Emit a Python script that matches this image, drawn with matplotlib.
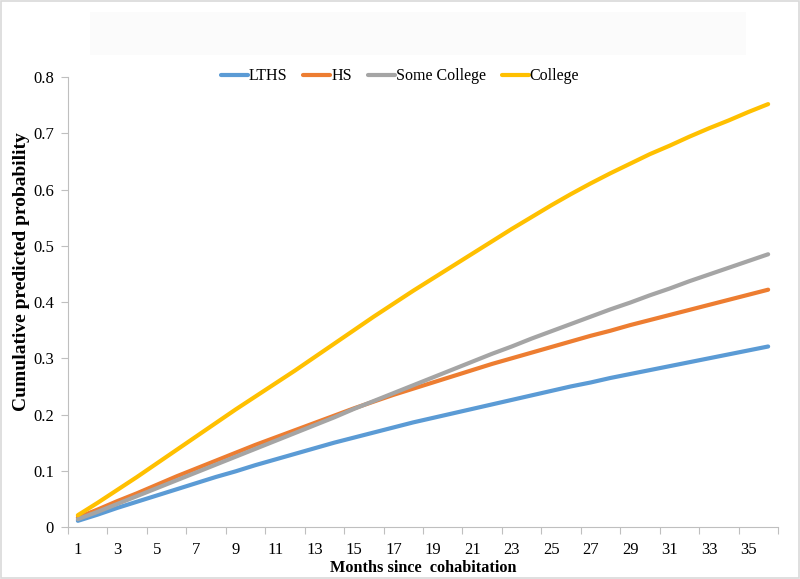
import matplotlib.pyplot as plt
from matplotlib.patches import Rectangle

months = list(range(1, 37))
tick_labels = [str(m) for m in range(1, 36, 2)]

lths = [0.011, 0.022, 0.034, 0.045, 0.056, 0.067, 0.078, 0.089, 0.099, 0.110,
        0.120, 0.130, 0.140, 0.150, 0.159, 0.168, 0.177, 0.186, 0.194, 0.202,
        0.210, 0.218, 0.226, 0.234, 0.242, 0.250, 0.257, 0.265, 0.272, 0.279,
        0.286, 0.293, 0.300, 0.307, 0.314, 0.321]
hs = [0.017, 0.031, 0.046, 0.060, 0.075, 0.090, 0.104, 0.118, 0.132, 0.146,
      0.159, 0.172, 0.185, 0.198, 0.211, 0.223, 0.235, 0.246, 0.257, 0.268,
      0.279, 0.290, 0.300, 0.310, 0.320, 0.330, 0.340, 0.349, 0.359, 0.368,
      0.377, 0.386, 0.395, 0.404, 0.413, 0.422]
some_college = [0.014, 0.027, 0.041, 0.055, 0.069, 0.083, 0.097, 0.111, 0.125, 0.139,
                0.153, 0.167, 0.181, 0.195, 0.210, 0.224, 0.238, 0.252, 0.266, 0.280,
                0.294, 0.308, 0.321, 0.335, 0.348, 0.361, 0.374, 0.387, 0.399, 0.412,
                0.424, 0.437, 0.449, 0.461, 0.473, 0.485]
college = [0.021, 0.043, 0.066, 0.089, 0.113, 0.137, 0.161, 0.185, 0.209, 0.232,
           0.255, 0.278, 0.302, 0.326, 0.350, 0.374, 0.397, 0.420, 0.442, 0.464,
           0.486, 0.508, 0.530, 0.551, 0.572, 0.592, 0.611, 0.629, 0.646, 0.663,
           0.678, 0.694, 0.709, 0.723, 0.738, 0.752]

series = [("LTHS", lths, "#5B9BD5"),
          ("HS", hs, "#ED7D31"),
          ("Some College", some_college, "#A5A5A5"),
          ("College", college, "#FFC000")]

plt.rcParams['font.family'] = ['Liberation Serif', 'DejaVu Serif']

fig = plt.figure(figsize=(8, 5.79), dpi=100)
ax = fig.add_axes([0.085, 0.0898, 0.8875, 0.777])

for name, vals, color in series:
    ax.plot(months, vals, color=color, linewidth=3, label=name, solid_capstyle='round')

ax.set_xlim(0.5, 36.5)
ax.set_ylim(0, 0.8)

# tick marks between categories, labels on odd months
ax.set_xticks([m + 0.5 for m in range(0, 37, 2)])
ax.set_xticklabels([])
ax.set_xticks(list(range(1, 36, 2)), minor=True)
ax.set_xticklabels(tick_labels, minor=True, fontsize=12)
ax.tick_params(axis='x', which='major', length=5, color='#BFBFBF')
ax.tick_params(axis='x', which='minor', length=0, pad=11)

yt = [i / 10 for i in range(9)]
ax.set_yticks(yt)
ax.set_yticklabels(["0"] + [f"{v:.1f}" for v in yt[1:]], fontsize=12)
ax.tick_params(axis='y', length=5, color='#BFBFBF', pad=5)

for side in ['top', 'right']:
    ax.spines[side].set_visible(False)
for side in ['left', 'bottom']:
    ax.spines[side].set_color('#BFBFBF')

ax.set_xlabel("Months since  cohabitation", fontsize=11.7, fontweight='bold')
ax.xaxis.set_label_coords(0.5, -0.074)
ax.set_ylabel("Cumulative predicted probability", fontsize=14, fontweight='bold')
ax.yaxis.set_label_coords(-0.054, 0.567)

fig.legend(loc='center', bbox_to_anchor=(0.5, 0.868), ncol=4, frameon=False,
           fontsize=11.5, handlelength=1.7, handletextpad=0.05, columnspacing=1.0)

# faint title placeholder box and chart border
fig.patches.append(Rectangle((0.112, 0.905), 0.82, 0.075, transform=fig.transFigure,
                             facecolor='#FBFBFB', edgecolor='none', zorder=0))
fig.patches.append(Rectangle((0.001, 0.001), 0.998, 0.997, transform=fig.transFigure,
                             facecolor='none', edgecolor='#D9D9D9', linewidth=1.2))

plt.savefig("out.png", dpi=100)
